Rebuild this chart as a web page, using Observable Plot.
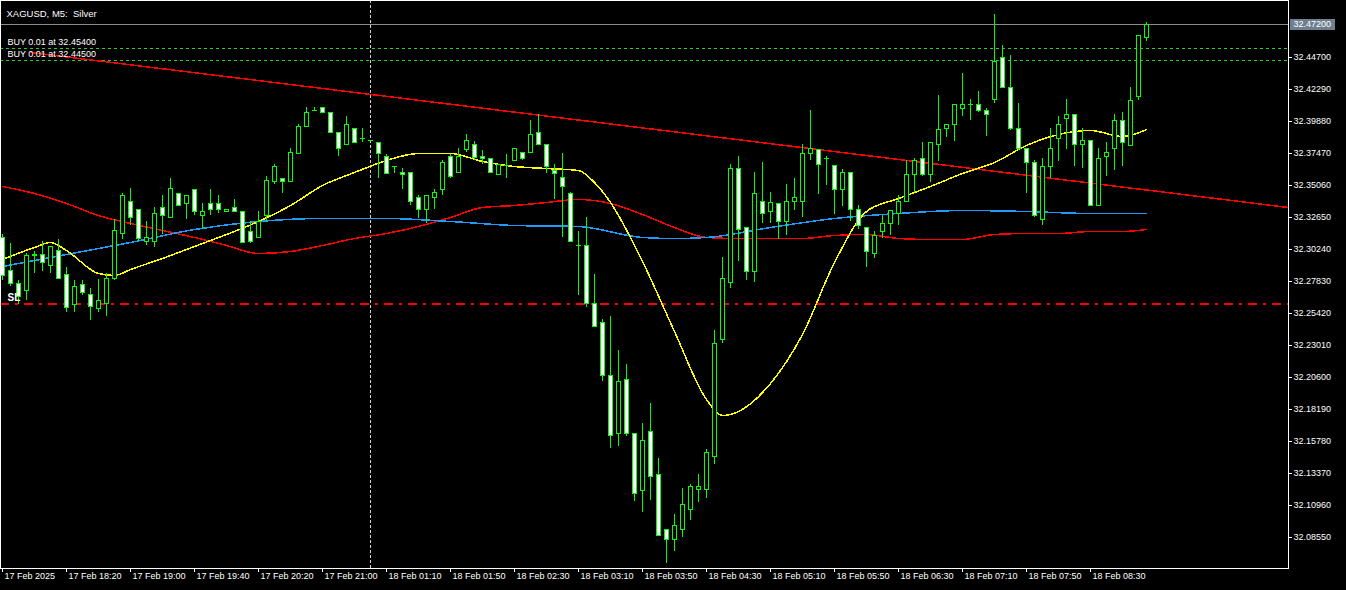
<!DOCTYPE html>
<html><head><meta charset="utf-8">
<script src="https://cdn.jsdelivr.net/npm/d3@7"></script>
<script src="https://cdn.jsdelivr.net/npm/@observablehq/plot@0.6"></script>
<style>
html,body{margin:0;padding:0;background:#000;overflow:hidden}
#chart svg{display:block}
</style></head><body><div id="chart"></div>
<script>
const symbolTitle = "XAGUSD, M5:\u00a0\u00a0Silver";

const opens = [32.312,32.287,32.277,32.272,32.299,32.299,32.291,32.302,32.284,32.261,32.276,32.269,32.258,32.262,32.281,32.315,32.339,32.333,32.309,32.309,
32.334,32.327,32.345,32.337,32.348,32.328,32.337,32.337,32.331,32.334,32.331,32.316,32.312,32.328,32.354,32.356,32.354,32.375,32.395,32.407,
32.410,32.406,32.391,32.382,32.394,32.386,32.385,32.383,32.373,32.365,32.361,32.361,32.342,32.333,32.342,32.348,32.373,32.361,32.378,32.382,
32.373,32.371,32.359,32.366,32.370,32.376,32.376,32.391,32.382,32.362,32.357,32.345,32.306,32.306,32.262,32.248,32.208,32.164,32.205,32.164,
32.121,32.166,32.133,32.092,32.084,32.092,32.107,32.122,32.122,32.147,32.235,32.278,32.364,32.319,32.286,32.339,32.331,32.337,32.324,32.339,
32.339,32.375,32.378,32.371,32.366,32.348,32.361,32.333,32.319,32.300,32.316,32.322,32.330,32.339,32.359,32.371,32.359,32.382,32.394,32.397,
32.409,32.412,32.412,32.407,32.416,32.447,32.425,32.394,32.379,32.368,32.325,32.365,32.386,32.401,32.404,32.382,32.385,32.336,32.373,32.379,
32.400,32.381,32.418,32.462];
const highs = [32.314,32.307,32.279,32.300,32.301,32.309,32.305,32.310,32.289,32.279,32.279,32.273,32.280,32.285,32.325,32.345,32.349,32.333,32.324,32.334,
32.343,32.356,32.345,32.343,32.348,32.337,32.348,32.343,32.333,32.340,32.331,32.324,32.331,32.358,32.367,32.356,32.379,32.397,32.410,32.410,
32.410,32.406,32.391,32.403,32.394,32.394,32.385,32.383,32.374,32.365,32.364,32.361,32.343,32.343,32.348,32.370,32.374,32.379,32.389,32.384,
32.377,32.371,32.367,32.374,32.379,32.376,32.400,32.404,32.382,32.367,32.375,32.346,32.316,32.327,32.284,32.250,32.252,32.227,32.216,32.164,
32.172,32.187,32.145,32.092,32.103,32.123,32.126,32.133,32.152,32.242,32.297,32.367,32.373,32.319,32.361,32.368,32.346,32.337,32.352,32.356,
32.382,32.407,32.378,32.373,32.366,32.363,32.361,32.336,32.319,32.316,32.328,32.332,32.343,32.370,32.371,32.383,32.383,32.419,32.397,32.412,
32.435,32.416,32.422,32.409,32.480,32.456,32.449,32.413,32.379,32.370,32.371,32.394,32.403,32.416,32.404,32.394,32.385,32.379,32.383,32.404,
32.406,32.425,32.464,32.474];
const lows = [32.279,32.275,32.261,32.264,32.285,32.286,32.285,32.281,32.255,32.255,32.268,32.249,32.255,32.252,32.279,32.310,32.321,32.309,32.306,32.304,
32.314,32.327,32.336,32.325,32.328,32.318,32.328,32.330,32.331,32.331,32.308,32.307,32.312,32.323,32.352,32.345,32.353,32.374,32.395,32.407,
32.406,32.391,32.373,32.382,32.383,32.383,32.385,32.356,32.360,32.360,32.348,32.336,32.326,32.322,32.333,32.343,32.356,32.361,32.376,32.370,
32.367,32.361,32.359,32.356,32.370,32.370,32.376,32.382,32.360,32.340,32.312,32.309,32.268,32.259,32.245,32.203,32.153,32.154,32.162,32.113,
32.105,32.114,32.087,32.066,32.075,32.086,32.099,32.112,32.115,32.141,32.232,32.273,32.294,32.279,32.278,32.322,32.322,32.310,32.313,32.332,
32.327,32.370,32.344,32.351,32.329,32.335,32.324,32.318,32.289,32.296,32.311,32.313,32.321,32.339,32.346,32.358,32.353,32.369,32.387,32.384,
32.403,32.400,32.406,32.388,32.413,32.425,32.392,32.377,32.345,32.327,32.321,32.356,32.369,32.378,32.365,32.364,32.336,32.336,32.358,32.362,
32.365,32.380,32.415,32.459];
const closes = [32.283,32.277,32.267,32.298,32.298,32.293,32.305,32.281,32.259,32.275,32.270,32.260,32.264,32.281,32.317,32.343,32.327,32.311,32.312,32.330,
32.328,32.349,32.336,32.343,32.331,32.331,32.333,32.333,32.333,32.331,32.308,32.309,32.324,32.355,32.365,32.354,32.376,32.395,32.406,32.407,
32.406,32.391,32.379,32.397,32.383,32.386,32.385,32.375,32.360,32.365,32.359,32.339,32.333,32.343,32.346,32.368,32.358,32.373,32.385,32.372,
32.371,32.361,32.367,32.366,32.379,32.371,32.389,32.382,32.365,32.360,32.350,32.309,32.306,32.262,32.245,32.208,32.163,32.203,32.164,32.119,
32.159,32.132,32.087,32.084,32.095,32.111,32.124,32.124,32.150,32.232,32.281,32.364,32.318,32.286,32.345,32.330,32.338,32.324,32.339,32.342,
32.375,32.379,32.367,32.371,32.348,32.361,32.333,32.321,32.301,32.313,32.322,32.332,32.339,32.359,32.370,32.359,32.383,32.393,32.397,32.412,
32.412,32.412,32.407,32.404,32.444,32.425,32.394,32.379,32.368,32.328,32.365,32.379,32.397,32.404,32.382,32.385,32.336,32.371,32.376,32.400,
32.383,32.415,32.464,32.472];

const yellowBars = [0,4,6,8,12,14,16,20,24,28,32,36,40,44,48,52,56,60,64,68,72,74,76,80,84,88,90,92,96,100,104,108,112,116,120,124,128,132,136,140,143];
const yellowMA = [32.295,32.304,32.308,32.302,32.285,32.283,32.288,32.296,32.305,32.314,32.324,32.336,32.351,32.361,32.370,32.375,32.375,32.369,32.365,32.364,
32.362,32.353,32.338,32.294,32.241,32.190,32.178,32.181,32.202,32.239,32.293,32.331,32.341,32.350,32.360,32.368,32.381,32.389,32.392,32.388,32.393];
const blueBars = [0,8,16,24,32,40,48,56,64,72,80,84,88,96,104,112,120,128,136,143];
const blueMA = [32.290,32.299,32.308,32.318,32.324,32.326,32.326,32.324,32.321,32.320,32.312,32.311,32.312,32.319,32.326,32.330,32.332,32.331,32.330,32.330];
const redBars = [0,4,8,12,16,20,24,28,32,36,40,44,48,52,56,60,64,68,72,76,80,84,88,92,96,100,104,108,112,116,120,124,128,132,136,140,143];
const redMA = [32.350,32.345,32.337,32.328,32.322,32.317,32.312,32.306,32.300,32.301,32.306,32.311,32.315,32.320,32.327,32.334,32.336,32.338,32.340,32.337,
32.329,32.319,32.312,32.311,32.311,32.311,32.313,32.314,32.311,32.310,32.310,32.314,32.315,32.315,32.316,32.316,32.318];

const trendBars = [3.5, 160.75];
const trendPrices = [32.451, 32.334];

const xTickBars = [0,8,16,24,32,40,48,56,64,72,80,88,96,104,112,120,128,136];
const xTickLabels = ["17 Feb 2025","17 Feb 18:20","17 Feb 19:00","17 Feb 19:40","17 Feb 20:20","17 Feb 21:00","18 Feb 01:10","18 Feb 01:50","18 Feb 02:30",
"18 Feb 03:10","18 Feb 03:50","18 Feb 04:30","18 Feb 05:10","18 Feb 05:50","18 Feb 06:30","18 Feb 07:10","18 Feb 07:50","18 Feb 08:30"];
const yTickValues = [32.0855,32.1096,32.1337,32.1578,32.1819,32.2060,32.2301,32.2542,32.2783,32.3024,32.3265,32.3506,32.3747,32.3988,32.4229,32.4470];

const currentPrice = 32.472;
const buyLevels = [32.454, 32.445];
const buyLabels = ["BUY 0.01 at 32.45400", "BUY 0.01 at 32.44500"];
const slPrice = 32.262;
const daySeparatorBars = [46];

const xDomain = [-0.25, 160.75];
const yDomain = [32.0625, 32.4902];
const plotW = 1288, plotH = 568;
const xPerPx = (xDomain[1] - xDomain[0]) / plotW;
const yPerPx = (yDomain[1] - yDomain[0]) / plotH;

const candles = opens.map((o, i) => ({i, o, h: highs[i], l: lows[i], c: closes[i]}));
const bulls = candles.filter(d => d.c > d.o);
const bears = candles.filter(d => d.c < d.o);
const dojis = candles.filter(d => d.c === d.o);
const zip = (xs, ys) => xs.map((x, k) => ({x, y: ys[k]}));
const green = "#00ff00";
const crisp = "crispEdges";

const chart = Plot.plot({
  width: 1346, height: 590,
  marginLeft: 0, marginRight: 58, marginTop: 0, marginBottom: 22,
  style: {background: "#000", color: "#fff", fontFamily: "'Liberation Sans', Arial, sans-serif", fontSize: "9px"},
  x: {domain: xDomain, axis: null, round: true},
  y: {domain: yDomain, axis: null, round: true},
  marks: [
    Plot.ruleX(daySeparatorBars, {x: d => d, stroke: "#d0d0d0", strokeDasharray: "3,2", shapeRendering: crisp}),
    Plot.ruleY([currentPrice], {y: d => d, stroke: "#8c8c8c", shapeRendering: crisp}),
    Plot.ruleY(buyLevels, {y: d => d, stroke: "#2fc82f", strokeDasharray: "3,3", shapeRendering: crisp}),
    Plot.ruleY([slPrice], {y: d => d, stroke: "#ff0000", strokeWidth: 2, strokeDasharray: "9,6,3,6", shapeRendering: crisp}),
    Plot.line(zip(trendBars, trendPrices), {x: "x", y: "y", stroke: "#ff0000", shapeRendering: crisp}),
    Plot.line(zip(redBars, redMA), {x: "x", y: "y", stroke: "#ff0000", curve: "monotone-x", shapeRendering: crisp}),
    Plot.line(zip(blueBars, blueMA), {x: "x", y: "y", stroke: "#1e9bff", curve: "monotone-x", shapeRendering: crisp}),
    Plot.line(zip(yellowBars, yellowMA), {x: "x", y: "y", stroke: "#ffff00", curve: "monotone-x", shapeRendering: crisp}),
    Plot.ruleX(candles, {x: "i", y1: "l", y2: "h", stroke: green, shapeRendering: crisp}),
    Plot.rect(bulls, {x1: d => d.i - 0.25, x2: d => d.i + 0.25, y1: "o", y2: "c", fill: "#000", stroke: green, shapeRendering: crisp}),
    Plot.rect(bears, {x1: d => d.i - 0.25, x2: d => d.i + 0.25, y1: "o", y2: "c", fill: "#fff", stroke: green, shapeRendering: crisp}),
    Plot.ruleY(dojis, {y: "o", x1: d => d.i - 0.3125, x2: d => d.i + 0.3125, stroke: green, shapeRendering: crisp}),
    Plot.frame({stroke: "#fff", shapeRendering: crisp}),
    // y axis
    Plot.ruleY(yTickValues, {y: d => d, x1: xDomain[1], x2: xDomain[1] + 4 * xPerPx, stroke: "#fff", shapeRendering: crisp}),
    Plot.text(yTickValues, {y: d => d, text: d => d.toFixed(5), frameAnchor: "right", dx: 5, textAnchor: "start", fill: "#fff"}),
    Plot.ruleY([currentPrice], {y: d => d, x1: xDomain[1] + 2 * xPerPx, x2: xDomain[1] + 47 * xPerPx, stroke: "#6f7f8f", strokeWidth: 11, shapeRendering: crisp}),
    Plot.text([currentPrice], {y: d => d, text: d => d.toFixed(5), frameAnchor: "right", dx: 5, textAnchor: "start", fill: "#fff"}),
    // x axis
    Plot.ruleX(xTickBars, {x: d => d, y1: yDomain[0], y2: yDomain[0] - 4 * yPerPx, stroke: "#fff", shapeRendering: crisp}),
    Plot.text(xTickBars, {x: d => d, text: (d, i) => xTickLabels[i], frameAnchor: "bottom", dy: 10, dx: 2, textAnchor: "start", fill: "#fff"}),
    // annotations
    Plot.text([symbolTitle], {text: d => d, frameAnchor: "top-left", dx: 6, dy: 10, textAnchor: "start", fill: "#fff", fontSize: 9.5}),
    Plot.text(buyLevels, {y: d => d, text: (d, i) => buyLabels[i], frameAnchor: "left", dx: 7, dy: -6, textAnchor: "start", fill: "#fff"}),
    Plot.text([slPrice], {y: d => d, text: () => "SL", frameAnchor: "left", dx: 7, dy: -6, textAnchor: "start", fill: "#fff", fontWeight: "bold", fontSize: 10})
  ]
});
document.getElementById("chart").appendChild(chart);
</script>
</body></html>
